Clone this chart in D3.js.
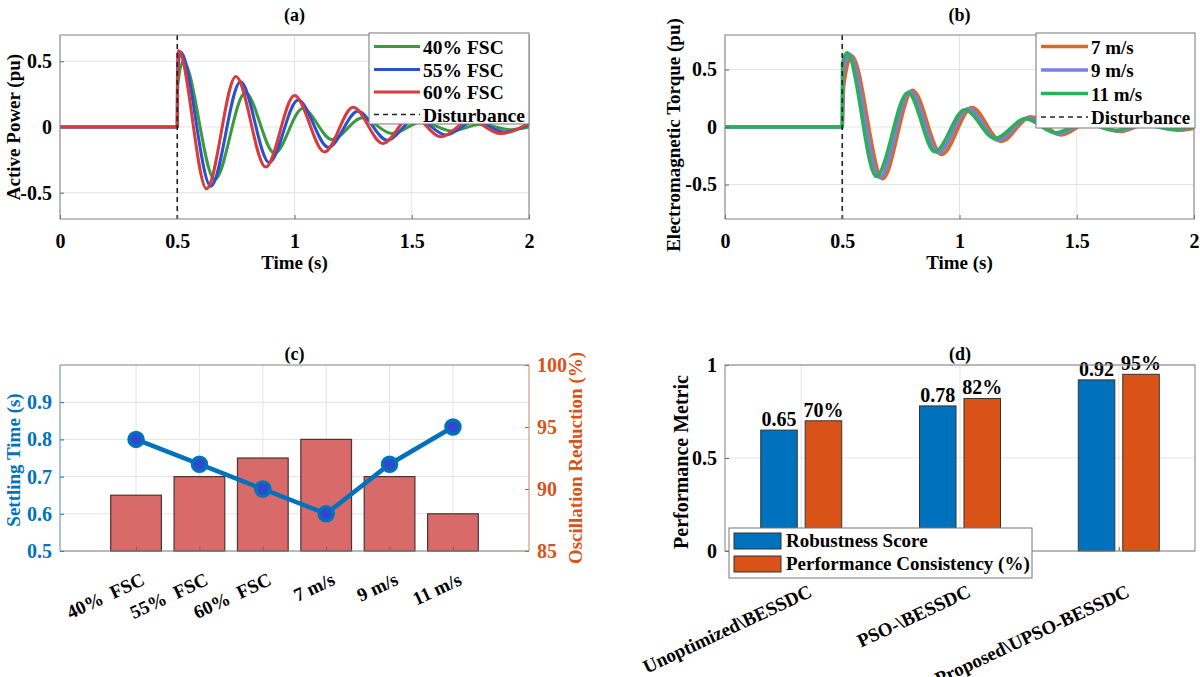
<!DOCTYPE html>
<html>
<head>
<meta charset="utf-8">
<script src="https://cdn.jsdelivr.net/npm/d3@7"></script>
<style>
  body { margin: 0; background: #fff; }
  svg text { font-family: "Liberation Serif", "Times New Roman", serif; font-weight: bold; }
</style>
</head>
<body>
<div id="chart"></div>
<script>

// ---- data ----
var timeTicks = [0, 0.5, 1, 1.5, 2];
var pmTicks = [-0.5, 0, 0.5];

// (a) active power, key points [time, pu]
var fsc40 = [[0,0],[0.5,0],[0.501,0.3],[0.525,0.5],[0.66,-0.4],[0.79,0.26],[0.915,-0.2],[1.035,0.14],[1.16,-0.095],[1.29,0.07],[1.415,-0.05],[1.545,0.04],[1.67,-0.03],[1.795,0.02],[1.92,-0.02],[2,0]];
var fsc55 = [[0,0],[0.5,0],[0.501,0.4],[0.514,0.57],[0.643,-0.45],[0.77,0.345],[0.892,-0.27],[1.015,0.205],[1.145,-0.155],[1.27,0.12],[1.395,-0.1],[1.52,0.07],[1.645,-0.06],[1.77,0.045],[1.895,-0.04],[2,0.02]];
var fsc60 = [[0,0],[0.5,0],[0.501,0.45],[0.505,0.58],[0.625,-0.47],[0.75,0.385],[0.877,-0.305],[1.0,0.24],[1.128,-0.19],[1.25,0.15],[1.377,-0.125],[1.5,0.09],[1.625,-0.075],[1.75,0.055],[1.877,-0.05],[2,0.03]];

// (b) electromagnetic torque, key points [time, pu]
var wind7 = [[0,0],[0.5,0],[0.506,0.35],[0.54,0.62],[0.672,-0.45],[0.8,0.32],[0.924,-0.24],[1.053,0.17],[1.178,-0.125],[1.304,0.09],[1.433,-0.07],[1.562,0.05],[1.684,-0.04],[1.805,0.03],[1.935,-0.028],[2,-0.01]];
var wind9 = [[0,0],[0.5,0],[0.503,0.45],[0.53,0.635],[0.66,-0.44],[0.79,0.31],[0.91,-0.225],[1.038,0.16],[1.165,-0.115],[1.292,0.08],[1.42,-0.06],[1.547,0.042],[1.672,-0.035],[1.794,0.025],[1.922,-0.024],[2,-0.005]];
var wind11 = [[0,0],[0.5,0],[0.501,0.55],[0.52,0.645],[0.645,-0.43],[0.78,0.3],[0.895,-0.215],[1.023,0.15],[1.152,-0.1],[1.281,0.072],[1.41,-0.05],[1.532,0.035],[1.661,-0.03],[1.783,0.02],[1.91,-0.02],[2,0]];

// (c)
var cCats = ["40%  FSC", "55%  FSC", "60%  FSC", "7 m/s", "9 m/s", "11 m/s"];
var settlingTime = [0.65, 0.70, 0.75, 0.80, 0.70, 0.60];
var oscReduction = [94, 92, 90, 88, 92, 95];
var settleTicks = [0.5, 0.6, 0.7, 0.8, 0.9];
var reduceTicks = [85, 90, 95, 100];

// (d)
var dCats = ["Unoptimized\\BESSDC", "PSO-\\BESSDC", "Proposed\\UPSO-BESSDC"];
var robustness = [0.65, 0.78, 0.92];
var consistency = [0.70, 0.82, 0.95];
var metricTicks = [0, 0.5, 1];

var width = 1200;
var height = 677;
var boxColor = "#808080";
var gridColor = "#e3e3e3";
var blue = "#0072BD";
var orange = "#D95319";

var svg = d3.select("#chart")
  .append("svg")
  .attr("width", width)
  .attr("height", height);

function styleAxis(g, color) {
  g.attr("font-size", 20);
  g.select(".domain").remove();
  g.selectAll(".tick line").attr("stroke", color || "#666");
  g.selectAll(".tick text").attr("fill", color || "#000");
}

function title(txt, x, y) {
  svg.append("text").attr("x", x).attr("y", y)
    .attr("text-anchor", "middle").attr("font-size", 18).text(txt);
}

function yLabel(txt, x, y, color, size) {
  svg.append("text")
    .attr("transform", "translate(" + x + "," + y + ") rotate(-90)")
    .attr("text-anchor", "middle")
    .attr("font-size", size || 19)
    .attr("fill", color || "#000")
    .text(txt);
}

// ---- time-domain panels (a) and (b) ----
function timePanel(p) {
  var x = d3.scaleLinear().domain([0, 2]).range([p.left, p.right]);
  var y = d3.scaleLinear().domain(p.yDomain).range([p.bottom, p.top]);

  var grid = svg.append("g");
  timeTicks.forEach(function (t) {
    grid.append("line").attr("x1", x(t)).attr("x2", x(t)).attr("y1", p.top).attr("y2", p.bottom)
      .attr("stroke", gridColor);
  });
  pmTicks.forEach(function (v) {
    grid.append("line").attr("x1", p.left).attr("x2", p.right).attr("y1", y(v)).attr("y2", y(v))
      .attr("stroke", gridColor);
  });

  svg.append("clipPath").attr("id", p.id + "clip")
    .append("rect").attr("x", p.left).attr("y", p.top)
    .attr("width", p.right - p.left).attr("height", p.bottom - p.top);

  var line = d3.line()
    .x(function (d) { return x(d[0]); })
    .y(function (d) { return y(d[1]); })
    .curve(d3.curveMonotoneX);

  var curves = svg.append("g").attr("clip-path", "url(#" + p.id + "clip)");
  p.series.forEach(function (s) {
    curves.append("path").attr("d", line(s.data))
      .attr("fill", "none").attr("stroke", s.color)
      .attr("stroke-width", p.lineWidth).attr("stroke-linejoin", "round");
  });
  curves.append("line").attr("x1", x(0.5)).attr("x2", x(0.5))
    .attr("y1", p.top).attr("y2", p.bottom)
    .attr("stroke", "#222").attr("stroke-width", 1.6).attr("stroke-dasharray", "5,4");

  svg.append("g").attr("transform", "translate(0," + p.bottom + ")")
    .call(d3.axisBottom(x).tickValues(timeTicks).tickSize(-4).tickPadding(15).tickFormat(function (d) { return String(d); }))
    .call(styleAxis);
  svg.append("g").attr("transform", "translate(" + p.left + ",0)")
    .call(d3.axisLeft(y).tickValues(pmTicks).tickSize(-4).tickPadding(8).tickFormat(function (d) { return String(d); }))
    .call(styleAxis);

  svg.append("rect").attr("x", p.left).attr("y", p.top)
    .attr("width", p.right - p.left).attr("height", p.bottom - p.top)
    .attr("fill", "none").attr("stroke", boxColor);

  // legend
  var L = p.legend;
  var lg = svg.append("g");
  lg.append("rect").attr("x", L.x).attr("y", L.y).attr("width", L.w).attr("height", L.h)
    .attr("fill", "#fff").attr("stroke", "#777");
  var items = p.series.slice(0).concat([{ name: "Disturbance", color: "#222", dash: true }]);
  items.forEach(function (s, i) {
    var cy = L.rows[i];
    lg.append("line").attr("x1", L.x + 5).attr("x2", L.x + L.sw)
      .attr("y1", cy).attr("y2", cy)
      .attr("stroke", s.color).attr("stroke-width", s.dash ? 1.6 : p.lineWidth)
      .attr("stroke-dasharray", s.dash ? "5,4" : null);
    lg.append("text").attr("x", L.x + L.sw + 3).attr("y", cy + 7)
      .attr("font-size", L.fs).text(s.name);
  });

  title(p.title, (p.left + p.right) / 2, 21);
  svg.append("text").attr("x", (p.left + p.right) / 2).attr("y", 269)
    .attr("text-anchor", "middle").attr("font-size", 19).text("Time (s)");
}

timePanel({
  id: "a", left: 60, right: 529, top: 35, bottom: 219, yDomain: [-0.7, 0.7], lineWidth: 3,
  title: "(a)",
  series: [
    { name: "40% FSC", data: fsc40, color: "#3a9a3f" },
    { name: "55% FSC", data: fsc55, color: "#2a52cf" },
    { name: "60% FSC", data: fsc60, color: "#d93a3a" }
  ],
  legend: { x: 369, y: 33, w: 160, h: 91, sw: 51, fs: 19.5, rows: [46.5, 69.5, 92, 114.5] }
});
yLabel("Active Power (pu)", 20, 127);

timePanel({
  id: "b", left: 725, right: 1194, top: 35, bottom: 219, yDomain: [-0.8, 0.8], lineWidth: 3.5,
  title: "(b)",
  series: [
    { name: "7 m/s", data: wind7, color: "#d86a25" },
    { name: "9 m/s", data: wind9, color: "#7b7fdc" },
    { name: "11 m/s", data: wind11, color: "#2eae58" }
  ],
  legend: { x: 1036, y: 33, w: 159, h: 95, sw: 52, fs: 19, rows: [46.5, 70, 93.5, 117] }
});
yLabel("Electromagnetic Torque (pu)", 680, 135);

// ---- panel (c) ----
(function () {
  var left = 60, right = 529, top = 365, bottom = 551;
  var x = d3.scalePoint().domain(cCats).range([left, right]).padding(1.2);
  var barW = x.step() * 0.8;
  var yl = d3.scaleLinear().domain([0.5, 1.0]).range([bottom, top]);
  var yr = d3.scaleLinear().domain([85, 100]).range([bottom, top]);

  var grid = svg.append("g");
  cCats.forEach(function (c) {
    grid.append("line").attr("x1", x(c)).attr("x2", x(c)).attr("y1", top).attr("y2", bottom).attr("stroke", gridColor);
  });
  settleTicks.forEach(function (v) {
    grid.append("line").attr("x1", left).attr("x2", right).attr("y1", yl(v)).attr("y2", yl(v)).attr("stroke", gridColor);
  });

  svg.append("g").selectAll("rect")
    .data(settlingTime)
    .enter()
    .append("rect")
    .attr("x", function (d, i) { return x(cCats[i]) - barW / 2; })
    .attr("y", function (d) { return yl(d); })
    .attr("width", barW)
    .attr("height", function (d) { return bottom - yl(d); })
    .attr("fill", "#d86a6a")
    .attr("stroke", "#4a3434")
    .attr("stroke-width", 1.2);

  var line = d3.line()
    .x(function (d, i) { return x(cCats[i]); })
    .y(function (d) { return yr(d); });
  svg.append("path").attr("d", line(oscReduction))
    .attr("fill", "none").attr("stroke", blue).attr("stroke-width", 4.5);
  svg.append("g").selectAll("circle")
    .data(oscReduction)
    .enter()
    .append("circle")
    .attr("cx", function (d, i) { return x(cCats[i]); })
    .attr("cy", function (d) { return yr(d); })
    .attr("r", 7)
    .attr("fill", "#3346cf")
    .attr("stroke", blue)
    .attr("stroke-width", 3.5);

  svg.append("g").attr("transform", "translate(0," + bottom + ")")
    .call(d3.axisBottom(x).tickSize(-4).tickFormat(""))
    .call(styleAxis);
  svg.append("g").attr("transform", "translate(" + left + ",0)")
    .call(d3.axisLeft(yl).tickValues(settleTicks).tickSize(-4).tickPadding(8).tickFormat(d3.format(".1f")))
    .call(styleAxis, blue);
  svg.append("g").attr("transform", "translate(" + right + ",0)")
    .call(d3.axisRight(yr).tickValues(reduceTicks).tickSize(-4).tickPadding(8))
    .call(styleAxis, orange);

  svg.append("line").attr("x1", left).attr("x2", right).attr("y1", top).attr("y2", top).attr("stroke", boxColor);
  svg.append("line").attr("x1", left).attr("x2", right).attr("y1", bottom).attr("y2", bottom).attr("stroke", boxColor);
  svg.append("line").attr("x1", left).attr("x2", left).attr("y1", top).attr("y2", bottom).attr("stroke", "#5b88b0");
  svg.append("line").attr("x1", right).attr("x2", right).attr("y1", top).attr("y2", bottom).attr("stroke", "#b98a72");

  svg.append("g").selectAll("text")
    .data(cCats)
    .enter()
    .append("text")
    .attr("transform", function (d) { return "translate(" + (x(d) + 10) + "," + (bottom + 33) + ") rotate(-25)"; })
    .attr("text-anchor", "end")
    .attr("font-size", 19)
    .style("white-space", "pre")
    .text(function (d) { return d; });

  title("(c)", (left + right) / 2, 360);
  yLabel("Settling Time (s)", 20, 460, blue, 19);
  yLabel("Oscillation Reduction (%)", 582, 458, orange, 19);
})();

// ---- panel (d) ----
(function () {
  var left = 725, right = 1195, top = 365, bottom = 551;
  var x = d3.scalePoint().domain(dCats).range([left, right]).padding(0.48);
  var step = x.step();
  var barW = step * 0.23;
  var off = step * 0.14;
  var y = d3.scaleLinear().domain([0, 1]).range([bottom, top]);

  var grid = svg.append("g");
  dCats.forEach(function (c) {
    grid.append("line").attr("x1", x(c)).attr("x2", x(c)).attr("y1", top).attr("y2", bottom).attr("stroke", gridColor);
  });
  metricTicks.forEach(function (v) {
    grid.append("line").attr("x1", left).attr("x2", right).attr("y1", y(v)).attr("y2", y(v)).attr("stroke", gridColor);
  });

  var groups = [
    { values: robustness, color: blue, dx: -off, fmt: function (d) { return d3.format(".2f")(d); } },
    { values: consistency, color: orange, dx: off, fmt: function (d) { return Math.round(d * 100) + "%"; } }
  ];
  groups.forEach(function (g) {
    svg.append("g").selectAll("rect")
      .data(g.values)
      .enter()
      .append("rect")
      .attr("x", function (d, i) { return x(dCats[i]) + g.dx - barW / 2; })
      .attr("y", function (d) { return y(d); })
      .attr("width", barW)
      .attr("height", function (d) { return bottom - y(d); })
      .attr("fill", g.color)
      .attr("stroke", "#333")
      .attr("stroke-width", 1);
    svg.append("g").selectAll("text")
      .data(g.values)
      .enter()
      .append("text")
      .attr("x", function (d, i) { return x(dCats[i]) + g.dx; })
      .attr("y", function (d) { return y(d) - 4; })
      .attr("text-anchor", "middle")
      .attr("font-size", 20)
      .text(g.fmt);
  });

  svg.append("g").attr("transform", "translate(0," + bottom + ")")
    .call(d3.axisBottom(x).tickSize(-4).tickFormat(""))
    .call(styleAxis);
  svg.append("g").attr("transform", "translate(" + left + ",0)")
    .call(d3.axisLeft(y).tickValues(metricTicks).tickSize(-4).tickPadding(8).tickFormat(function (d) { return String(d); }))
    .call(styleAxis);
  svg.append("rect").attr("x", left).attr("y", top).attr("width", right - left).attr("height", bottom - top)
    .attr("fill", "none").attr("stroke", boxColor);

  svg.append("g").selectAll("text.xl")
    .data(dCats)
    .enter()
    .append("text")
    .attr("transform", function (d) { return "translate(" + (x(d) + 12) + "," + (bottom + 45) + ") rotate(-25)"; })
    .attr("text-anchor", "end")
    .attr("font-size", 19)
    .text(function (d) { return d; });

  // legend
  var lg = svg.append("g");
  lg.append("rect").attr("x", 729).attr("y", 528).attr("width", 303).attr("height", 50)
    .attr("fill", "#fff").attr("stroke", "#777");
  [{ name: "Robustness Score", color: blue }, { name: "Performance Consistency (%)", color: orange }]
    .forEach(function (s, i) {
      var ry = 533 + i * 23;
      lg.append("rect").attr("x", 734).attr("y", ry).attr("width", 47).attr("height", 16)
        .attr("fill", s.color).attr("stroke", "#333");
      lg.append("text").attr("x", 786).attr("y", ry + 14).attr("font-size", 19).text(s.name);
    });

  title("(d)", (left + right) / 2, 360);
  yLabel("Performance Metric", 688, 462, "#000", 20);
})();

</script>
</body>
</html>
